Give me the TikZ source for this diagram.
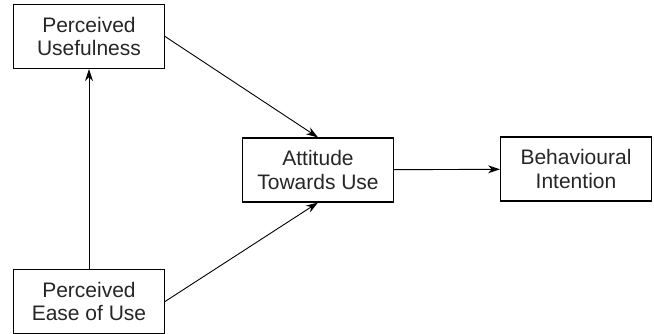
\documentclass[tikz,border=0pt]{standalone}
\usepackage{fontspec}
\setmainfont{Liberation Sans}
\usepackage{tikz}
\usetikzlibrary{arrows.meta,positioning}

\begin{document}
\begin{tikzpicture}[
    x=1pt, y=1pt,
    >={Stealth[length=12pt,width=8pt]},
    block/.style={rectangle, draw, line width=1.1pt, minimum height=64pt,
                  minimum width=151pt, align=center, text=black!85,
                  font=\fontsize{21}{23.5}\selectfont},
    arr/.style={->, line width=0.9pt}
]
    \useasboundingbox (0,0) rectangle (654,334);

    \node[block] (useful)   at (89,297.5) {Perceived\\Usefulness};
    \node[block] (easeuse)  at (89,32.5)  {Perceived\\Ease of Use};
    \node[block] (attitude) at (318,164)  {Attitude\\Towards Use};
    \node[block] (intent)   at (576,165)  {Behavioural\\Intention};

    \draw[arr] (easeuse) -- (useful);
    \draw[arr] (useful.east) -- (attitude.north);
    \draw[arr] (easeuse.east) -- (attitude.south);
    \draw[arr] (attitude) -- (intent);
\end{tikzpicture}
\end{document}
